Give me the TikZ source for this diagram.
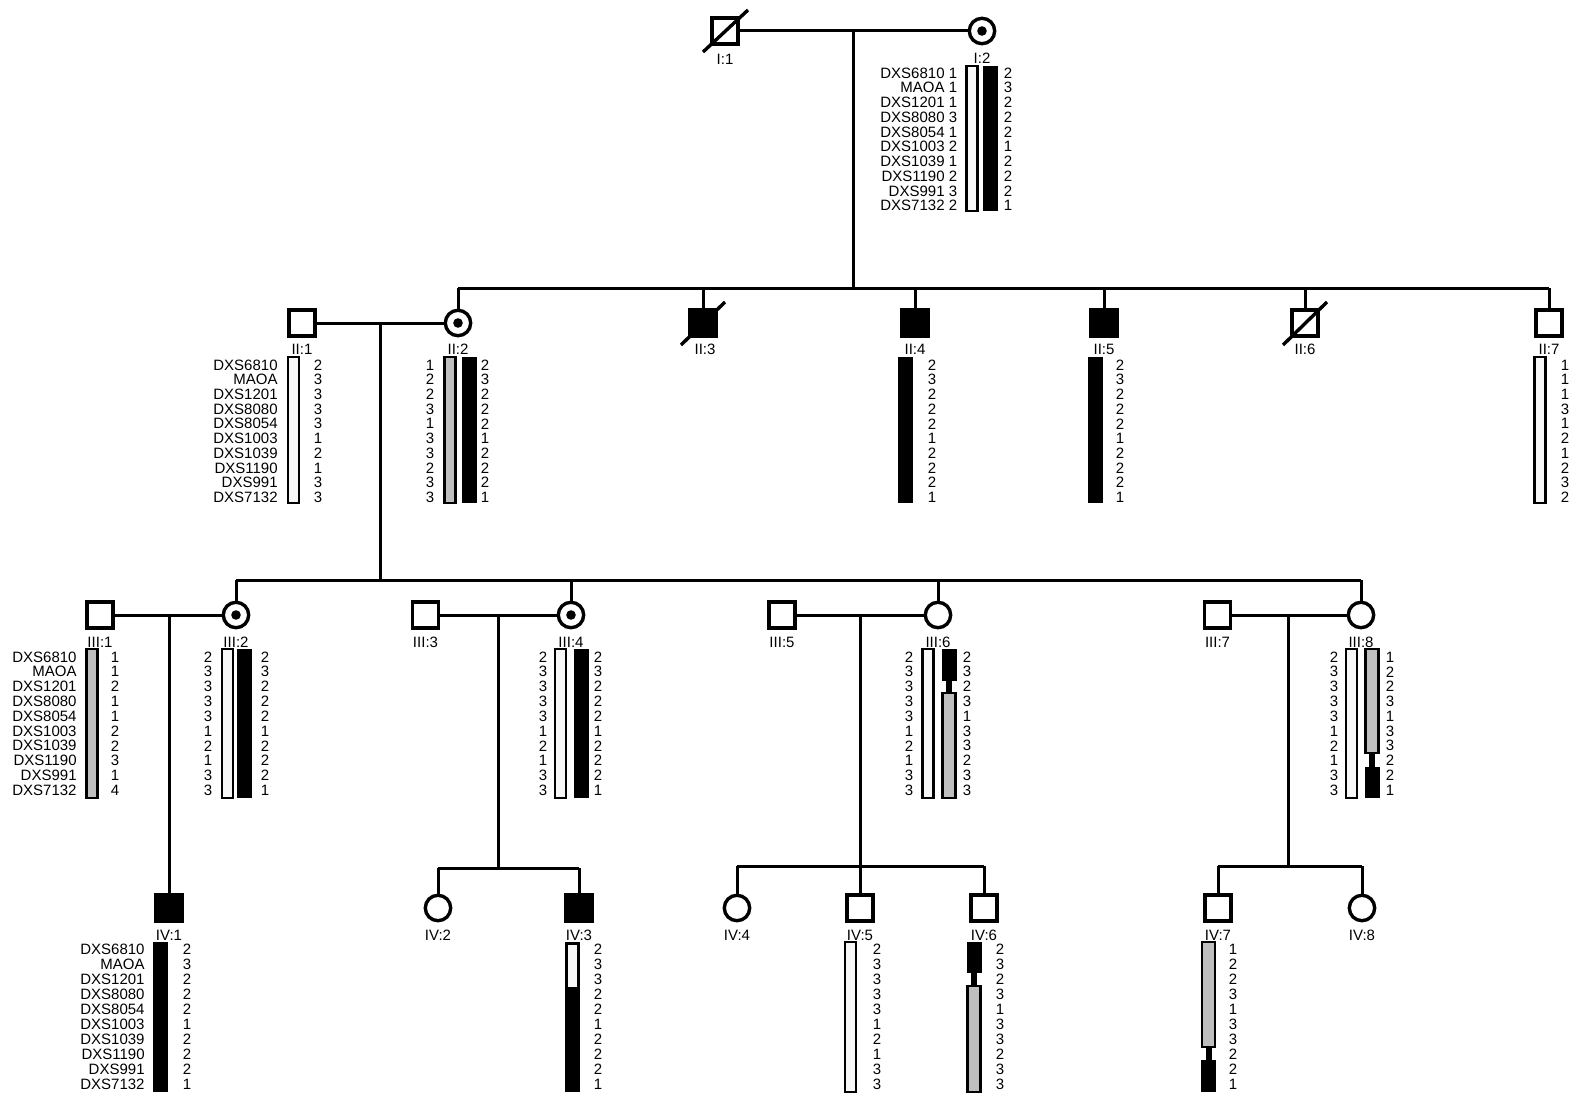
\documentclass[tikz,border=0pt]{standalone}
\usepackage{fontspec}
\setmainfont{Liberation Sans}
\newcommand\hapcol[5]{%
  \foreach \a [count=\i from 0] in {#5}
    \node[txt] (#1-\i) at ({#2},{#3+\i*#4}) {\a};
}
\newcommand\hapnames[4]{%
  \foreach \m [count=\i from 0] in {DXS6810,MAOA,DXS1201,DXS8080,DXS8054,DXS1003,DXS1039,DXS1190,DXS991,DXS7132}
    \node[txt,anchor=east] (#1-\i) at ({#2},{#3+\i*#4}) {\m};
}
\newcommand\hwbar[3]{\draw[wbarst] ({#1-5.5},{#2}) rectangle ({#1+5.5},{#3});}
\newcommand\hgbar[3]{\draw[gbarst] ({#1-5.5},{#2}) rectangle ({#1+5.5},{#3});}
\newcommand\hbbar[3]{\fill[black] ({#1-7.5},{#2}) rectangle ({#1+7.5},{#3});}
\newcommand\recBG[5]{%
  \fill[black] ({#1-7.5},{#2}) rectangle ({#1+7.5},{#3});
  \fill[black] ({#1-3},{#3}) rectangle ({#1+3},{#4});
  \draw[gbarst] ({#1-6.5},{#4}) rectangle ({#1+6.5},{#5});
}
\newcommand\recGB[5]{%
  \fill[black] ({#1-3},{#3}) rectangle ({#1+3},{#4});
  \draw[gbarst] ({#1-6.5},{#2}) rectangle ({#1+6.5},{#3});
  \fill[black] ({#1-7.5},{#4}) rectangle ({#1+7.5},{#5});
}
\begin{document}
\begin{tikzpicture}[x=0.5pt,y=-0.5pt,
  pl/.style={line width=1.5pt},
  male/.style={draw,line width=1.7pt,rectangle,minimum size=12.9pt,inner sep=0pt,fill=white},
  female/.style={draw,line width=1.7pt,circle,minimum size=12.7pt,inner sep=0pt,fill=white},
  aff/.style={fill=black},
  carrier/.style={female,path picture={\fill[black] (path picture bounding box.center) circle (2.4pt);}},
  slash/.style={line width=1.7pt},
  txt/.style={inner sep=0pt,font=\fontsize{7.5}{8}\selectfont},
  wbarst/.style={line width=1.4pt,fill=black!3},
  gbarst/.style={line width=1.4pt,fill=black!25},
]
\useasboundingbox (0,0) rectangle (1576,1097);
\fill[white] (0,0) rectangle (1576,1097);

% ---------- Generation I ----------
\node[male] (I1) at (725,31) {};
\node[carrier] (I2) at (982,31) {};
\draw[slash] ([shift={(-22,21)}]I1.center) -- ([shift={(23,-21)}]I1.center);
\node[txt] (lI1) at (725,59) {I:1};
\node[txt] (lI2) at (982,58) {I:2};
\draw[pl] (I1.east) -- (I2.west);
\coordinate (dI) at (853,31);
\coordinate (sII) at (853,288);
\draw[pl] (dI) -- (sII);

\hapnames{nI2}{945}{73}{14.75}
\hapcol{aI2a}{953}{73}{14.75}{1,1,1,3,1,2,1,2,3,2}
\hwbar{972}{66}{211}
\hbbar{990.5}{66}{211}
\hapcol{aI2b}{1008}{73}{14.75}{2,3,2,2,2,1,2,2,2,1}

% ---------- Generation II ----------
\node[male] (II1) at (302,323) {};
\node[carrier] (II2) at (458,323) {};
\node[male,aff] (II3) at (703,323) {};
\node[male,aff] (II4) at (915,323) {};
\node[male,aff] (II5) at (1104,323) {};
\node[male] (II6) at (1305,323) {};
\node[male] (II7) at (1549,323) {};
\draw[slash] ([shift={(-22,22)}]II3.center) -- ([shift={(22,-21)}]II3.center);
\draw[slash] ([shift={(-22,22)}]II6.center) -- ([shift={(22,-21)}]II6.center);
\foreach \n/\x/\t in {II1/302/II:1,II2/458/II:2,II3/705/II:3,II4/915/II:4,II5/1104/II:5,II6/1305/II:6,II7/1549/II:7}
  \node[txt] (l\n) at (\x,349) {\t};
\draw[pl] (II2.north |- sII) -- (II7.north |- sII);
\foreach \c in {II2,II3,II4,II5,II6,II7}
  \draw[pl] (\c.north |- sII) -- (\c.north);
\draw[pl] (II1.east) -- (II2.west);
\coordinate (dII) at (380,323);
\coordinate (sIII) at (380,580);
\draw[pl] (dII) -- (sIII);

\hapnames{nII1}{278}{365}{14.7}
\hwbar{293.5}{357}{503}
\hapcol{aII1}{318}{365}{14.7}{2,3,3,3,3,1,2,1,3,3}
\hapcol{aII2a}{430}{365}{14.7}{1,2,2,3,1,3,3,2,3,3}
\hgbar{450}{357}{503}
\hbbar{469.5}{357}{503}
\hapcol{aII2b}{485}{365}{14.7}{2,3,2,2,2,1,2,2,2,1}
\hbbar{905.5}{357}{503}
\hapcol{aII4}{932}{365}{14.7}{2,3,2,2,2,1,2,2,2,1}
\hbbar{1095}{357}{503}
\hapcol{aII5}{1120}{365}{14.7}{2,3,2,2,2,1,2,2,2,1}
\hwbar{1540}{357}{503}
\hapcol{aII7}{1565}{365}{14.7}{1,1,1,3,1,2,1,2,3,2}

% ---------- Generation III ----------
\node[male] (III1) at (100,615) {};
\node[carrier] (III2) at (236,615) {};
\node[male] (III3) at (425.5,615) {};
\node[carrier] (III4) at (571,615) {};
\node[male] (III5) at (782,615) {};
\node[female] (III6) at (938,615) {};
\node[male] (III7) at (1217.5,615) {};
\node[female] (III8) at (1361,615) {};
\foreach \n/\x/\t in {III1/100/III:1,III2/236/III:2,III3/425.5/III:3,III4/571/III:4,III5/782/III:5,III6/938/III:6,III7/1217.5/III:7,III8/1361/III:8}
  \node[txt] (l\n) at (\x,642) {\t};
\draw[pl] (III2.north |- sIII) -- (III8.north |- sIII);
\foreach \c in {III2,III4,III6,III8}
  \draw[pl] (\c.north |- sIII) -- (\c.north);
\draw[pl] (III1.east) -- (III2.west);
\draw[pl] (III3.east) -- (III4.west);
\draw[pl] (III5.east) -- (III6.west);
\draw[pl] (III7.east) -- (III8.west);

\hapnames{nIII1}{77}{657}{14.8}
\hgbar{92}{649}{798}
\hapcol{aIII1}{115}{657}{14.8}{1,1,2,1,1,2,2,3,1,4}
\hapcol{aIII2a}{208}{657}{14.8}{2,3,3,3,3,1,2,1,3,3}
\hwbar{227.5}{649}{798}
\hbbar{244}{649}{798}
\hapcol{aIII2b}{265}{657}{14.8}{2,3,2,2,2,1,2,2,2,1}
\hapcol{aIII4a}{543}{657}{14.8}{2,3,3,3,3,1,2,1,3,3}
\hwbar{560.5}{649}{798}
\hbbar{581}{649}{798}
\hapcol{aIII4b}{598}{657}{14.8}{2,3,2,2,2,1,2,2,2,1}
\hapcol{aIII6a}{909}{657}{14.8}{2,3,3,3,3,1,2,1,3,3}
\hwbar{928}{649}{798}
\recBG{949}{649}{681}{693}{798}
\hapcol{aIII6b}{967}{657}{14.8}{2,3,2,3,1,3,3,2,3,3}
\hapcol{aIII8a}{1334}{657}{14.8}{2,3,3,3,3,1,2,1,3,3}
\hwbar{1351.5}{649}{798}
\recGB{1372}{649}{753}{767}{798}
\hapcol{aIII8b}{1390}{657}{14.8}{1,2,2,3,1,3,3,2,2,1}

% ---------- Generation IV ----------
\node[male,aff] (IV1) at (169,908) {};
\node[female] (IV2) at (438,908) {};
\node[male,aff] (IV3) at (579,908) {};
\node[female] (IV4) at (737,908) {};
\node[male] (IV5) at (860,908) {};
\node[male] (IV6) at (984,908) {};
\node[male] (IV7) at (1218,908) {};
\node[female] (IV8) at (1362,908) {};
\foreach \n/\x/\t in {IV1/169/IV:1,IV2/438/IV:2,IV3/579/IV:3,IV4/737/IV:4,IV5/860/IV:5,IV6/984/IV:6,IV7/1218/IV:7,IV8/1362/IV:8}
  \node[txt] (l\n) at (\x,935) {\t};
\draw[pl] (IV1.north |- III1.east) -- (IV1.north);
\coordinate (s34) at (498,868);
\draw[pl] (s34 |- III3.east) -- (s34);
\draw[pl] (IV2.north |- s34) -- (IV3.north |- s34);
\foreach \c in {IV2,IV3} \draw[pl] (\c.north |- s34) -- (\c.north);
\coordinate (s56) at (860,866);
\draw[pl] (s56 |- III5.east) -- (s56);
\draw[pl] (IV4.north |- s56) -- (IV6.north |- s56);
\foreach \c in {IV4,IV5,IV6} \draw[pl] (\c.north |- s56) -- (\c.north);
\coordinate (s78) at (1288,866);
\draw[pl] (s78 |- III7.east) -- (s78);
\draw[pl] (IV7.north |- s78) -- (IV8.north |- s78);
\foreach \c in {IV7,IV8} \draw[pl] (\c.north |- s78) -- (\c.north);

\hapnames{nIV1}{145}{949}{15}
\hbbar{160}{942}{1092}
\hapcol{aIV1}{187}{949}{15}{2,3,2,2,2,1,2,2,2,1}
\hbbar{572.5}{942}{1092}
\fill[black!3] (568,945) rectangle (577,987);
\hapcol{aIV3}{598}{949}{15}{2,3,3,2,2,1,2,2,2,1}
\hwbar{850.5}{942}{1092}
\hapcol{aIV5}{877}{949}{15}{2,3,3,3,3,1,2,1,3,3}
\recBG{974}{942}{973}{986}{1092}
\hapcol{aIV6}{1000}{949}{15}{2,3,2,3,1,3,3,2,3,3}
\recGB{1208.5}{942}{1047}{1060}{1092}
\hapcol{aIV7}{1233}{949}{15}{1,2,2,3,1,3,3,2,2,1}
\end{tikzpicture}
\end{document}
